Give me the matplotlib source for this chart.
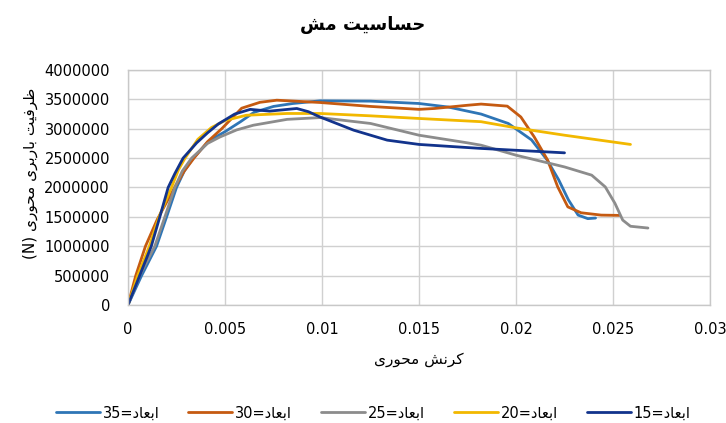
import matplotlib
matplotlib.use("Agg")
import matplotlib.pyplot as plt
from matplotlib.ticker import FuncFormatter

# --- data ---
strain_35 = [0, 0.0007, 0.00147, 0.00199, 0.0025, 0.0029, 0.00336, 0.0042, 0.005, 0.0058, 0.0065,
             0.0075, 0.0085, 0.0099, 0.0125, 0.015, 0.0165, 0.0182, 0.0196, 0.0208, 0.0216,
             0.0222, 0.0227, 0.0232, 0.0237, 0.0241]
load_35 = [0, 500000, 1000000, 1500000, 2000000, 2280000, 2500000, 2800000, 2950000, 3120000, 3280000,
           3380000, 3430000, 3475000, 3470000, 3430000, 3370000, 3250000, 3090000, 2810000, 2470000,
           2130000, 1790000, 1530000, 1470000, 1480000]

strain_30 = [0, 0.0004, 0.0009, 0.0015, 0.0024, 0.0029, 0.0034, 0.0041, 0.00483, 0.00586, 0.0068,
             0.00767, 0.0099, 0.0125, 0.015, 0.0158, 0.0175, 0.0182, 0.01955, 0.02025, 0.02094,
             0.02163, 0.02215, 0.02267, 0.02335, 0.02439, 0.02533]
load_30 = [0, 500000, 1000000, 1450000, 2000000, 2280000, 2500000, 2780000, 3000000, 3350000, 3450000,
           3486000, 3447000, 3380000, 3330000, 3345000, 3400000, 3420000, 3385000, 3200000, 2860000,
           2466000, 2010000, 1670000, 1570000, 1530000, 1525000]

strain_25 = [0, 0.0006, 0.00138, 0.0019, 0.00241, 0.0028, 0.00328, 0.0041, 0.00474, 0.0056,
             0.00646, 0.0082, 0.0099, 0.0125, 0.015, 0.0175, 0.0182, 0.02, 0.0225, 0.0239,
             0.0246, 0.0251, 0.0255, 0.0259, 0.0268]
load_25 = [0, 500000, 1000000, 1500000, 2000000, 2280000, 2500000, 2750000, 2860000, 2980000,
           3060000, 3160000, 3190000, 3090000, 2890000, 2760000, 2720000, 2550000, 2350000, 2210000,
           2010000, 1730000, 1445000, 1340000, 1310000]

strain_20 = [0, 0.0005, 0.0011, 0.0016, 0.00224, 0.0026, 0.00294, 0.0036, 0.0043, 0.005, 0.0061,
             0.0082, 0.0099, 0.0125, 0.015, 0.0182, 0.02, 0.0225, 0.0259]
load_20 = [0, 500000, 1000000, 1500000, 2000000, 2300000, 2500000, 2820000, 3020000, 3140000, 3230000,
           3260000, 3260000, 3220000, 3175000, 3120000, 3015000, 2890000, 2733000]

strain_15 = [0, 0.0006, 0.0012, 0.00164, 0.00207, 0.00242, 0.00284, 0.00354, 0.0041, 0.00465,
             0.0055, 0.0063, 0.0073, 0.0087, 0.0093, 0.0099, 0.01163, 0.01336, 0.015, 0.0182, 0.0225]
load_15 = [0, 500000, 1000000, 1500000, 2000000, 2240000, 2500000, 2760000, 2930000, 3080000,
           3250000, 3330000, 3300000, 3345000, 3290000, 3200000, 2976000, 2806000, 2733000, 2665000,
           2590000]

sizes = ["35", "30", "25", "20", "15"]
colors = ["#2E75B6", "#C55A11", "#8C8C8C", "#F2B800", "#12338C"]

x_ticks = [0, 0.005, 0.01, 0.015, 0.02, 0.025, 0.03]
y_ticks = [0, 500000, 1000000, 1500000, 2000000, 2500000, 3000000, 3500000, 4000000]

TITLE = "حساسیت مش"
XLABEL = "کرنش محوری"
YLABEL = "ظرفیت باربری محوری"
SERIES_WORD = "ابعاد"

# --- minimal Persian shaping (matplotlib has no complex text layout) ---
FORMS = {
    "ا": ("\uFE8D", "\uFE8E"),
    "د": ("\uFEA9", "\uFEAA"),
    "ر": ("\uFEAD", "\uFEAE"),
    "و": ("\uFEED", "\uFEEE"),
    "ب": ("\uFE8F", "\uFE90", "\uFE91", "\uFE92"),
    "ت": ("\uFE95", "\uFE96", "\uFE97", "\uFE98"),
    "ح": ("\uFEA1", "\uFEA2", "\uFEA3", "\uFEA4"),
    "س": ("\uFEB1", "\uFEB2", "\uFEB3", "\uFEB4"),
    "ش": ("\uFEB5", "\uFEB6", "\uFEB7", "\uFEB8"),
    "ظ": ("\uFEC5", "\uFEC6", "\uFEC7", "\uFEC8"),
    "ع": ("\uFEC9", "\uFECA", "\uFECB", "\uFECC"),
    "ف": ("\uFED1", "\uFED2", "\uFED3", "\uFED4"),
    "م": ("\uFEE1", "\uFEE2", "\uFEE3", "\uFEE4"),
    "ن": ("\uFEE5", "\uFEE6", "\uFEE7", "\uFEE8"),
    "ک": ("\uFB8E", "\uFB8F", "\uFB90", "\uFB91"),
    "ی": ("\uFBFC", "\uFBFD", "\uFBFE", "\uFBFF"),
}


def shape_rtl(text):
    out = []
    for i, ch in enumerate(text):
        if ch not in FORMS:
            out.append(ch)
            continue
        prev = text[i - 1] if i > 0 else ""
        nxt = text[i + 1] if i + 1 < len(text) else ""
        join_prev = prev in FORMS and len(FORMS[prev]) == 4
        join_next = nxt in FORMS and len(FORMS[ch]) == 4
        f = FORMS[ch]
        if join_prev and join_next:
            out.append(f[3])
        elif join_prev:
            out.append(f[1])
        elif join_next:
            out.append(f[2])
        else:
            out.append(f[0])
    return "".join(reversed(out))


plt.rcParams["font.family"] = ["DejaVu Sans"]

fig = plt.figure(figsize=(7.26, 4.23), dpi=100)
ax = fig.add_axes([0.1763, 0.279, 0.8017, 0.5555])

series = [
    (strain_35, load_35),
    (strain_30, load_30),
    (strain_25, load_25),
    (strain_20, load_20),
    (strain_15, load_15),
]
for (xs, ys), size, color in zip(series, sizes, colors):
    ax.plot(xs, ys, color=color, linewidth=2.0, solid_joinstyle="round",
            solid_capstyle="round", label=size + "=" + shape_rtl(SERIES_WORD))

ax.set_xlim(0, 0.03)
ax.set_ylim(0, 4000000)
ax.set_xticks(x_ticks)
ax.set_yticks(y_ticks)
ax.xaxis.set_major_formatter(FuncFormatter(lambda v, p: f"{v:g}"))
ax.yaxis.set_major_formatter(FuncFormatter(lambda v, p: f"{int(round(v))}"))
ax.grid(True, color="#D0D0D0", linewidth=1.0)
ax.set_axisbelow(True)
for side in ["top", "right", "left", "bottom"]:
    ax.spines[side].set_color("#C8C8C8")
    ax.spines[side].set_linewidth(1.0)
ax.tick_params(axis="both", length=0, labelsize=10.5, colors="#000000")
ax.tick_params(axis="y", pad=13)
ax.tick_params(axis="x", pad=12)

fig.text(0.5, 1 - 25 / 423, shape_rtl(TITLE), fontsize=13, fontweight="bold",
         ha="center", va="center")

ax.set_xlabel(shape_rtl(XLABEL), fontsize=11)
ax.xaxis.set_label_coords(0.5, -(360 - 305) / 235)
ax.set_ylabel("(N) " + shape_rtl(YLABEL), fontsize=11)
ax.yaxis.set_label_coords(-(128 - 30) / 582, 0.56)
ax.yaxis.label.set_va("center")
ax.xaxis.label.set_va("center")

fig.legend(loc="center", bbox_to_anchor=(0.514, 1 - 413 / 423), ncol=5, frameon=False,
           fontsize=10.5, handlelength=3.0, handletextpad=0.2, columnspacing=2.0)

fig.savefig("out.png", dpi=100)
